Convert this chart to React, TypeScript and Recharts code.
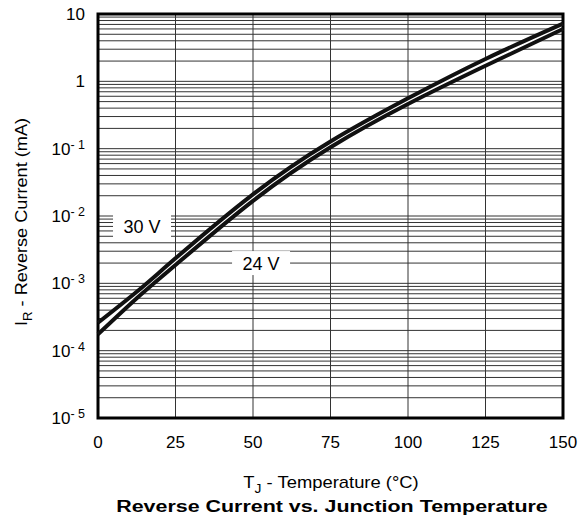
import React from 'react';
import { ComposedChart, Line, Area, XAxis, YAxis, CartesianGrid, ReferenceArea, ReferenceDot } from 'recharts';

const temperatures = [0, 12.5, 25, 50, 75, 100, 125, 150];
const current30V = [2.6e-4, 7.5e-4, 2.35e-3, 0.021, 0.128, 0.56, 2.15, 7.2];
const current24V = [1.75e-4, 6.0e-4, 1.87e-3, 0.0168, 0.105, 0.46, 1.7, 6.0];
const xTicks = [0, 25, 50, 75, 100, 125, 150];
const yTicks = [1e-5, 1e-4, 1e-3, 1e-2, 1e-1, 1, 10];
const seriesLabels = [
  { name: '30 V', t: 14.2, i: 7.1e-3, w: 58, h: 27 },
  { name: '24 V', t: 52.6, i: 2.0e-3, w: 58, h: 24 },
];

const data = temperatures.map((t, k) => ({
  t,
  v30: current30V[k],
  v24: current24V[k],
  band: [current24V[k], current30V[k]],
}));

const minorGrid: number[] = [];
for (let d = -5; d < 1; d++) {
  for (let m = 1; m <= 9; m++) {
    if (d === -5 && m === 1) continue;
    minorGrid.push(parseFloat((m * Math.pow(10, d)).toPrecision(6)));
  }
}
const verticalGrid = [25, 50, 75, 100, 125];
const Y_DOMAIN = [1e-5, 10];
const X_DOMAIN = [0, 150];

const FONT = '"Liberation Sans", Arial, Helvetica, sans-serif';

const applyScale = (s: any, v: number): number | undefined => {
  if (!s) return undefined;
  if (typeof s === 'function') return s(v);
  if (typeof s.map === 'function') return s.map(v);
  if (typeof s.scale === 'function') return s.scale(v);
  return undefined;
};

const hGen = (props: any) => {
  const s = props?.yAxis?.scale;
  const off = props?.offset;
  return minorGrid.map((v) => {
    const r = applyScale(s, v);
    if (typeof r === 'number' && !isNaN(r)) return r;
    const lmin = Math.log10(Y_DOMAIN[0]);
    const lmax = Math.log10(Y_DOMAIN[1]);
    return off.top + (off.height * (lmax - Math.log10(v))) / (lmax - lmin);
  });
};
const vGen = (props: any) => {
  const s = props?.xAxis?.scale;
  const off = props?.offset;
  return verticalGrid.map((v) => {
    const r = applyScale(s, v);
    if (typeof r === 'number' && !isNaN(r)) return r;
    return off.left + (off.width * (v - X_DOMAIN[0])) / (X_DOMAIN[1] - X_DOMAIN[0]);
  });
};

const YTick = (props: any) => {
  const { x, y, payload } = props;
  const exp = Math.round(Math.log10(payload.value));
  let content: React.ReactNode;
  if (exp === 1) content = '10';
  else if (exp === 0) content = '1';
  else
    content = (
      <>
        <tspan>10</tspan>
        <tspan dy={-6} fontSize={12.5}>{`- ${-exp}`}</tspan>
      </>
    );
  return (
    <text x={x} y={y + 6} textAnchor="end" fontSize={17} fill="#000" fontFamily={FONT}>
      {content}
    </text>
  );
};

const LabelBox = (name: string, w: number, h: number) => (props: any) => {
  const { cx, cy } = props;
  return (
    <g>
      <rect x={cx - w / 2} y={cy - h / 2} width={w} height={h} fill="#fff" />
      <text x={cx} y={cy + 6.5} textAnchor="middle" fontSize={18} fill="#000" fontFamily={FONT}>
        {name}
      </text>
    </g>
  );
};

export default function App() {
  return (
    <div style={{ position: 'absolute', left: 0, top: 0, width: 580, height: 523, background: '#fff' }}>
      <ComposedChart width={580} height={523} data={data} margin={{ top: 14, right: 17, left: 38, bottom: 75 }}>
        <CartesianGrid
          horizontalCoordinatesGenerator={hGen}
          verticalCoordinatesGenerator={vGen}
          stroke="#333"
          strokeWidth={1}
        />
        <XAxis
          dataKey="t"
          type="number"
          domain={X_DOMAIN}
          ticks={xTicks}
          tickLine={false}
          axisLine={false}
          tickSize={0}
          tickMargin={18}
          height={30}
          tick={{ fontSize: 17, fill: '#000', fontFamily: FONT }}
        />
        <YAxis
          type="number"
          scale="log"
          domain={Y_DOMAIN}
          ticks={yTicks}
          allowDataOverflow
          tickLine={false}
          axisLine={false}
          tickSize={0}
          tickMargin={13}
          width={60}
          tick={<YTick />}
        />
        {seriesLabels.map((l) => (
          <ReferenceDot key={l.name} x={l.t} y={l.i} r={0} shape={LabelBox(l.name, l.w, l.h)} ifOverflow="visible" />
        ))}
        <Area
          dataKey="band"
          type="natural"
          fill="#fff"
          fillOpacity={1}
          stroke="none"
          isAnimationActive={false}
          activeDot={false}
        />
        <Line dataKey="v30" type="natural" stroke="#111" strokeWidth={4} dot={false} isAnimationActive={false} />
        <Line dataKey="v24" type="natural" stroke="#111" strokeWidth={4} dot={false} isAnimationActive={false} />
        <ReferenceArea x1={0} x2={150} y1={1e-5} y2={10} fill="none" stroke="#000" strokeWidth={3} ifOverflow="visible" />
      </ComposedChart>
      <svg width={580} height={523} style={{ position: 'absolute', left: 0, top: 0, pointerEvents: 'none' }}>
        <text
          transform="translate(27,222) rotate(-90) scale(1.1,1)"
          textAnchor="middle"
          fontSize={16.5}
          fill="#000"
          fontFamily={FONT}
        >
          <tspan>I</tspan>
          <tspan dy={5} fontSize={12}>R</tspan>
          <tspan dy={-5}> - Reverse Current (mA)</tspan>
        </text>
        <text
          transform="translate(331,488) scale(1.15,1)"
          textAnchor="middle"
          fontSize={16}
          fill="#000"
          fontFamily={FONT}
        >
          <tspan>T</tspan>
          <tspan dy={5} fontSize={12}>J</tspan>
          <tspan dy={-5}> - Temperature (°C)</tspan>
        </text>
        <text
          transform="translate(332,512) scale(1.26,1)"
          textAnchor="middle"
          fontSize={17}
          fontWeight="bold"
          fill="#000"
          fontFamily={FONT}
        >
          Reverse Current vs. Junction Temperature
        </text>
      </svg>
    </div>
  );
}
